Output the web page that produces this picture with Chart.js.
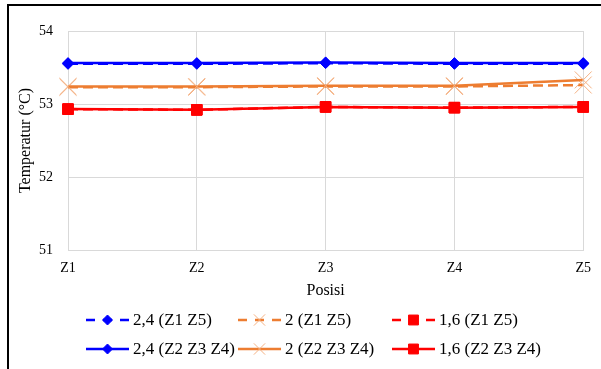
<!DOCTYPE html>
<html>
<head>
<meta charset="utf-8">
<script src="https://cdn.jsdelivr.net/npm/chart.js@4.4.1/dist/chart.umd.min.js"></script>
<style>
  html, body { margin: 0; padding: 0; background: #fff; }
  #wrap { position: relative; width: 601px; height: 369px; overflow: hidden; background: #fff; }
  #wrap canvas { position: absolute; left: 0; top: 0; }
  #frame { position: absolute; left: 7px; top: 4px; right: -10px; bottom: -10px;
           border-top: 2px solid #000; border-left: 2px solid #000; pointer-events: none; }
</style>
</head>
<body>
<div id="wrap">
  <canvas id="chart" width="601" height="369"></canvas>
  <div id="frame"></div>
</div>
<script>
// Measurement positions along the x axis
const positions = ['Z1', 'Z2', 'Z3', 'Z4', 'Z5'];
// Temperature axis ticks (°C)
const tempTicks = [51, 52, 53, 54];

// Temperatures per flow rate, edge zones (Z1 Z5) and middle zones (Z2 Z3 Z4)
const t24Edge   = [53.55, 53.55, 53.56, 53.55, 53.55];
const t2Edge    = [53.23, 53.23, 53.24, 53.24, 53.26];
const t16Edge   = [52.93, 52.92, 52.96, 52.95, 52.96];
const t24Middle = [53.56, 53.56, 53.57, 53.56, 53.56];
const t2Middle  = [53.24, 53.24, 53.25, 53.25, 53.33];
const t16Middle = [52.93, 52.92, 52.96, 52.95, 52.96];

const seriesLabels = ['2,4 (Z1 Z5)', '2 (Z1 Z5)', '1,6 (Z1 Z5)',
                      '2,4 (Z2 Z3 Z4)', '2 (Z2 Z3 Z4)', '1,6 (Z2 Z3 Z4)'];

const SERIF = '"Liberation Serif", "Times New Roman", serif';
const BLUE = '#0000FF', ORANGE = '#ED7D31', ORANGE_LIGHT = '#F4B183', RED = '#FF0000';

function series(label, data, color, dashed, marker) {
  return Object.assign({
    label, data,
    borderColor: color,
    backgroundColor: color,
    borderWidth: 2.5,
    borderDash: dashed ? [10, 5] : [],
    tension: 0,
    fill: false,
    order: dashed ? 1 : 0
  }, marker);
}

const diamond = { pointStyle: 'rectRot', pointRadius: 5.5, pointBackgroundColor: BLUE, pointBorderColor: BLUE, pointBorderWidth: 1, legendRadius: 5 };
const cross   = { pointStyle: 'crossRot', pointRadius: 12, pointBackgroundColor: ORANGE_LIGHT, pointBorderColor: ORANGE_LIGHT, pointBorderWidth: 1, legendRadius: 8 };
const square  = { pointStyle: 'rect', pointRadius: 7.5, pointBackgroundColor: RED, pointBorderColor: RED, pointBorderWidth: 1, legendRadius: 7 };

const datasets = [
  series(seriesLabels[0], t24Edge,   BLUE,   true,  diamond),
  series(seriesLabels[1], t2Edge,    ORANGE, true,  cross),
  series(seriesLabels[2], t16Edge,   RED,    true,  square),
  series(seriesLabels[3], t24Middle, BLUE,   false, diamond),
  series(seriesLabels[4], t2Middle,  ORANGE, false, cross),
  series(seriesLabels[5], t16Middle, RED,    false, square)
];

// Three-column legend under the plot, one row for each zone group
const gridLegend = {
  id: 'gridLegend',
  afterDraw(chart) {
    const ctx = chart.ctx;
    const cols = [86, 238, 392];
    const rows = [320, 349];
    const lineLen = 43;
    chart.data.datasets.forEach((d, i) => {
      const x0 = cols[i % 3];
      const y = rows[Math.floor(i / 3)];
      ctx.save();
      ctx.strokeStyle = d.borderColor;
      ctx.lineWidth = d.borderWidth;
      ctx.setLineDash(d.borderDash.length ? [9, 8] : []);
      ctx.beginPath();
      ctx.moveTo(x0, y);
      ctx.lineTo(x0 + lineLen, y);
      ctx.stroke();
      ctx.setLineDash([]);
      ctx.fillStyle = d.pointBackgroundColor;
      ctx.strokeStyle = d.pointBorderColor;
      ctx.lineWidth = d.pointBorderWidth;
      Chart.helpers.drawPoint(ctx, {
        pointStyle: d.pointStyle, radius: d.legendRadius,
        rotation: 0, borderWidth: d.pointBorderWidth
      }, x0 + lineLen / 2, y);
      ctx.fillStyle = '#000';
      ctx.font = '17px ' + SERIF;
      ctx.textBaseline = 'middle';
      ctx.textAlign = 'left';
      ctx.fillText(d.label, x0 + 47, y + 1);
      ctx.restore();
    });
  }
};

new Chart(document.getElementById('chart'), {
  type: 'line',
  data: { labels: positions, datasets },
  plugins: [gridLegend],
  options: {
    responsive: false,
    animation: false,
    devicePixelRatio: 1,
    layout: { padding: { left: 8, top: 31, right: 15, bottom: 69 } },
    plugins: { legend: { display: false }, tooltip: { enabled: false } },
    scales: {
      x: {
        type: 'category',
        offset: false,
        grid: { color: '#d9d9d9', lineWidth: 1, drawTicks: false },
        border: { color: '#d9d9d9', width: 1 },
        ticks: { color: '#000', font: { family: SERIF, size: 14 }, padding: 10, maxRotation: 0, autoSkip: false },
        title: { display: true, text: 'Posisi', color: '#000', font: { family: SERIF, size: 16 }, padding: { top: 0, bottom: 0 } },
        afterFit(scale) { scale.height = 50; }
      },
      y: {
        min: tempTicks[0],
        max: tempTicks[tempTicks.length - 1],
        grid: { color: '#d9d9d9', lineWidth: 1, drawTicks: false },
        border: { color: '#d9d9d9', width: 1 },
        ticks: { color: '#000', font: { family: SERIF, size: 14 }, padding: 15 },
        afterBuildTicks(scale) { scale.ticks = tempTicks.map(v => ({ value: v })); },
        title: { display: true, text: 'Temperatur (°C)', color: '#000', font: { family: SERIF, size: 16 }, padding: { top: 8, bottom: 0 } },
        afterFit(scale) { scale.width = 60; }
      }
    }
  }
});
</script>
</body>
</html>
